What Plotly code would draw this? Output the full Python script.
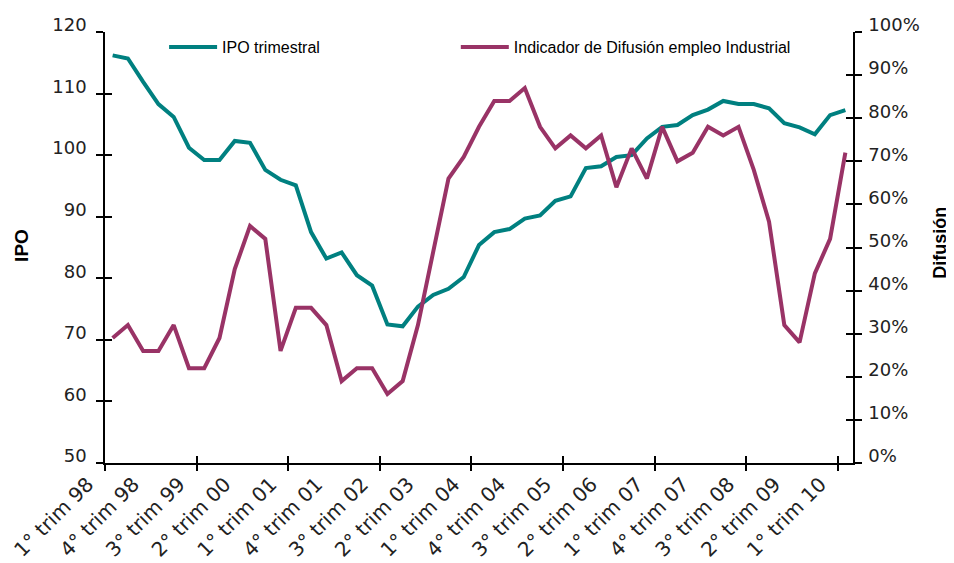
import plotly.graph_objects as go

# Quarterly categories, 1° trim 98 .. 1° trim 10
years = ["98", "99", "00", "01", "02", "03", "04", "05", "06", "07", "08", "09", "10"]
quarters = [f"{q}° trim {y}" for y in years for q in range(1, 5)][:49]

# Labels shown on the x axis (every third quarter)
tick_labels = ["1° trim 98", "4° trim 98", "3° trim 99", "2° trim 00", "1° trim 01",
               "4° trim 01", "3° trim 02", "2° trim 03", "1° trim 04", "4° trim 04",
               "3° trim 05", "2° trim 06", "1° trim 07", "4° trim 07", "3° trim 08",
               "2° trim 09", "1° trim 10"]

# IPO trimestral (left axis)
ipo = [116.2, 115.7, 111.9, 108.3, 106.2, 101.2, 99.2, 99.2, 102.3, 102.0,
       97.6, 96.0, 95.1, 87.5, 83.2, 84.2, 80.5, 78.8, 72.5, 72.2,
       75.4, 77.3, 78.3, 80.2, 85.4, 87.5, 88.0, 89.7, 90.2, 92.6,
       93.3, 97.9, 98.2, 99.7, 100.0, 102.7, 104.6, 104.9, 106.5, 107.4,
       108.8, 108.3, 108.3, 107.6, 105.2, 104.5, 103.4, 106.5, 107.3]

# Indicador de Difusión empleo Industrial (right axis, share)
difusion = [0.29, 0.32, 0.26, 0.26, 0.32, 0.22, 0.22, 0.29, 0.45, 0.55,
            0.52, 0.26, 0.36, 0.36, 0.32, 0.19, 0.22, 0.22, 0.16, 0.19,
            0.32, 0.49, 0.66, 0.71, 0.78, 0.84, 0.84, 0.87, 0.78, 0.73,
            0.76, 0.73, 0.76, 0.64, 0.73, 0.66, 0.78, 0.70, 0.72, 0.78,
            0.76, 0.78, 0.68, 0.56, 0.32, 0.28, 0.44, 0.52, 0.72]

# tick marks sit between categories, every six quarters
tick_marks = [i - 0.5 for i in range(0, 50, 6)]

tick_font = dict(family="DejaVu Sans", size=18, color="#222222")
legend_font = dict(family="Liberation Sans", size=16, color="black")
x_range = [-0.5, len(quarters) - 0.5]

fig = go.Figure()

fig.add_trace(go.Scatter(
    x=quarters, y=ipo, name="IPO trimestral", mode="lines",
    line=dict(color="#008080", width=4), legend="legend",
))
fig.add_trace(go.Scatter(
    x=quarters, y=difusion, name="Indicador de Difusión empleo Industrial",
    mode="lines", yaxis="y2", legend="legend2",
    line=dict(color="#993366", width=4),
))

# empty traces so the tick-only overlay axes get drawn
for xa, ya in [("x2", "y"), ("x3", "y"), ("x", "y3"), ("x", "y4")]:
    fig.add_trace(go.Scatter(x=[None], y=[None], xaxis=xa, yaxis=ya,
                             showlegend=False, hoverinfo="skip"))

axis_line = dict(showline=True, linecolor="black", linewidth=1.5,
                 showgrid=False, zeroline=False, automargin=False)
tick_only = dict(tickwidth=1.5, tickcolor="black", ticklen=7, showticklabels=False,
                 showline=False, showgrid=False, zeroline=False, automargin=False)

# the page body adds an 8 px offset, so the figure is 8 px smaller
fig.update_layout(
    width=946, height=555,
    paper_bgcolor="white", plot_bgcolor="white",
    margin=dict(l=97, r=101, t=24, b=100),
    showlegend=True,
    legend=dict(x=0.079, y=0.965, xanchor="left", yanchor="middle",
                font=legend_font, itemwidth=48, bgcolor="rgba(0,0,0,0)"),
    legend2=dict(x=0.469, y=0.965, xanchor="left", yanchor="middle",
                 font=legend_font, itemwidth=48, bgcolor="rgba(0,0,0,0)"),
    xaxis=dict(
        type="category", categoryorder="array", categoryarray=quarters,
        range=x_range, tickmode="array", tickvals=tick_labels, ticktext=tick_labels,
        ticks="", tickangle=-45, ticklabelshift=-25,
        tickfont=dict(family="DejaVu Sans", size=20, color="#222222"),
        **axis_line,
    ),
    xaxis2=dict(overlaying="x", anchor="y", range=x_range, tickmode="array",
                tickvals=tick_marks, ticks="outside", **tick_only),
    xaxis3=dict(overlaying="x", anchor="y", range=x_range, tickmode="array",
                tickvals=tick_marks, ticks="inside", **tick_only),
    yaxis=dict(
        range=[50, 120], dtick=10, ticks="outside", ticklen=7, tickwidth=1.5,
        tickcolor="black", tickfont=tick_font, ticklabelshift=-7,
        ticklabelstandoff=6, **axis_line,
    ),
    yaxis2=dict(
        overlaying="y", side="right", range=[0, 1], dtick=0.1, tickformat=".0%",
        ticks="outside", ticklen=7, tickwidth=1.5, tickcolor="black",
        tickfont=tick_font, ticklabelshift=-7, ticklabelstandoff=3, **axis_line,
    ),
    yaxis3=dict(overlaying="y", side="left", range=[50, 120], dtick=10,
                ticks="inside", **tick_only),
    yaxis4=dict(overlaying="y", side="right", range=[0, 1], dtick=0.1,
                ticks="inside", **tick_only),
    annotations=[
        dict(text="<b>IPO</b>", xref="paper", yref="paper", x=-0.111, y=0.506,
             xanchor="center", yanchor="middle", textangle=-90, showarrow=False,
             font=dict(family="Liberation Sans", size=19, color="black")),
        dict(text="<b>Difusión</b>", xref="paper", yref="paper", x=1.117, y=0.51,
             xanchor="center", yanchor="middle", textangle=-90, showarrow=False,
             font=dict(family="Liberation Sans", size=18, color="black")),
    ],
)

fig.write_html("out.html")
